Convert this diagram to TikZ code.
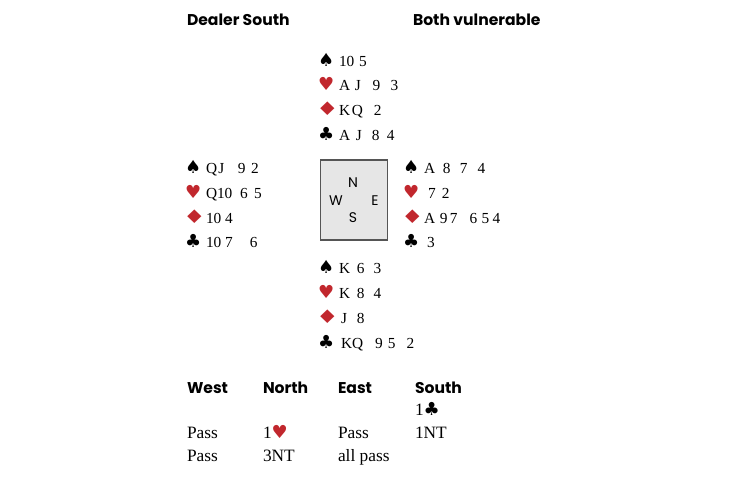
\documentclass[tikz,border=0pt]{standalone}
\usepackage{graphicx}
\usepackage{fontspec}
\setmainfont{Liberation Serif}
\newfontfamily\hdfont{Poppins}
\newfontfamily\symfont{DejaVu Sans}
\definecolor{suitred}{HTML}{C1272D}
\definecolor{boxfill}{HTML}{E6E6E6}
\definecolor{boxline}{HTML}{555555}
\newcommand\gp[1]{\hspace{#1pt}}
\newcommand\symsz{\fontsize{13.5}{13.5}\selectfont}
\newcommand\Sp{{\symfont\symsz ♠}}
\newcommand\Hs{{\color{suitred}\symfont\symsz ♥}}
\newcommand\Ds{\hspace{-1.5pt}{\color{suitred}\symfont\fontsize{14}{14}\selectfont\scalebox{1.35}[1]{♦}}}
\newcommand\Cs{{\symfont\symsz ♣}}
\newcommand\hand[2]{\makebox[15.75pt][l]{#1}#2}
\begin{document}
\begin{tikzpicture}[x=0.75pt,y=-0.75pt,
  lbl/.style={anchor=base west,inner sep=0pt,outer sep=0pt,font=\fontsize{11.5}{13}\selectfont},
  bid/.style={anchor=base west,inner sep=0pt,outer sep=0pt,font=\fontsize{13}{15}\selectfont},
  hdr/.style={anchor=base west,inner sep=0pt,outer sep=0pt,font=\hdfont\bfseries\fontsize{11.7}{13}\selectfont},
  cmp/.style={inner sep=0pt,font=\hdfont\fontsize{10.5}{12}\selectfont}]
\useasboundingbox (0,0) rectangle (730,486);
% headers
\node[hdr] (dealer) at (187,25) {Dealer South};
\node[hdr] (vul) at (413,25) {Both vulnerable};
% North
\node[lbl] (n1) at (318,66) {\hand{\Sp}{10\gp{3.5}5}};
\node[lbl] (n2) at (318,90) {\hand{\Hs}{A\gp{3.6}J\gp{8.9}9\gp{7.7}3}};
\node[lbl] (n3) at (318,115) {\hand{\Ds}{K\gp{1.4}Q\gp{8.1}2}};
\node[lbl] (n4) at (318,140) {\hand{\Cs}{A\gp{4.4}J\gp{7.4}8\gp{5.5}4}};
% West
\node[lbl] (w1) at (185,173) {\hand{\Sp}{Q\gp{0.9}J\gp{10.2}9\gp{4.2}2}};
\node[lbl] (w2) at (185,198) {\hand{\Hs}{Q10\gp{5.8}6\gp{4.7}5}};
\node[lbl] (w3) at (185,223) {\hand{\Ds}{10\gp{2.8}4}};
\node[lbl] (w4) at (185,247) {\hand{\Cs}{10\gp{2.8}7\gp{12.9}6}};
% East
\node[lbl] (e1) at (403,173) {\hand{\Sp}{A\gp{5.9}8\gp{6.9}7\gp{7.7}4}};
\node[lbl] (e2) at (403,198) {\hand{\Hs}{\hspace{3pt}7\gp{4.7}2}};
\node[lbl] (e3) at (403,223) {\hand{\Ds}{A\gp{3.6}9\gp{1.7}7\gp{9.2}6\gp{3.2}5\gp{2.5}4}};
\node[lbl] (e4) at (403,247) {\hand{\Cs}{\hspace{2.3pt}3}};
% South
\node[lbl] (s1) at (318,273) {\hand{\Sp}{K\gp{5.1}6\gp{6.9}3}};
\node[lbl] (s2) at (318,298) {\hand{\Hs}{K\gp{5.1}8\gp{6.9}4}};
\node[lbl] (s3) at (318,323) {\hand{\Ds}{\hspace{1.5pt}J\gp{7.4}8}};
\node[lbl] (s4) at (318,348) {\hand{\Cs}{\hspace{1.5pt}K\gp{0}Q\gp{8.9}9\gp{3.9}5\gp{8.4}2}};
% compass box
\node[draw=boxline,fill=boxfill,line width=0.8pt,minimum width=50.5pt,minimum height=60pt,inner sep=0pt] (box) at (354,200) {};
\node[cmp] (cn) at (353,183) {N};
\node[cmp] (cw) at (336,201) {W};
\node[cmp] (ce) at (375,201) {E};
\node[cmp] (cs) at (353,218) {S};
% auction
\node[hdr] (aw) at (187,393) {West};
\node[hdr] (an) at (263,393) {North};
\node[hdr] (ae) at (338,393) {East};
\node[hdr] (as) at (415,393) {South};
\node[bid] (b1) at (415,415) {1\Cs};
\node[bid] (b2) at (187,438) {Pass};
\node[bid] (b3) at (263,438) {1\Hs};
\node[bid] (b4) at (338,438) {Pass};
\node[bid] (b5) at (415,438) {1NT};
\node[bid] (b6) at (187,461) {Pass};
\node[bid] (b7) at (263,461) {3NT};
\node[bid] (b8) at (338,461) {all pass};
\end{tikzpicture}
\end{document}
